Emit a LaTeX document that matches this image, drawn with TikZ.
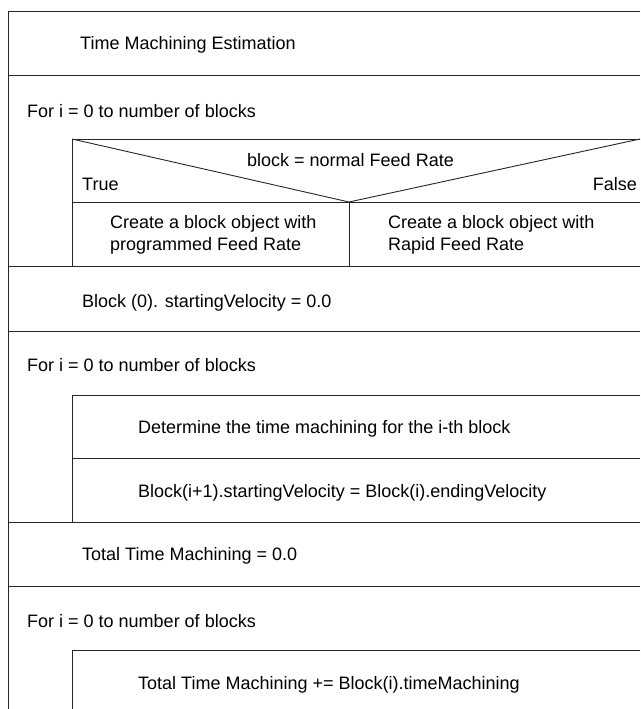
\documentclass[tikz,border=0pt]{standalone}
\usepackage{fontspec}
\setmainfont{Liberation Sans}
\begin{document}
\begin{tikzpicture}[x=1pt,y=-1pt,
  rule/.style={line width=0.9pt,draw=black!85},
  txt/.style={font=\fontsize{18}{22}\selectfont,inner sep=0pt,anchor=base west,text=black},
  txtr/.style={txt,anchor=base east},
  twoline/.style={font=\fontsize{18}{22}\selectfont,inner sep=0pt,anchor=west,align=left,text=black}]
\useasboundingbox[fill=white] (0,0) rectangle (640,709);

% outer frame: left edge and full-width rules
\draw[rule] (640,11) -- (8,11) -- (8,709);
\foreach \yy in {75,266,331,522,586}
  \draw[rule] (8,\yy) -- (640,\yy);

% decision block
\coordinate (dtl) at (72,139);
\coordinate (dtr) at (640,139);
\coordinate (dv) at (349,202);
\coordinate (dbl) at (72,202);
\coordinate (dbr) at (640,202);
\coordinate (dbot) at (349,266);
\draw[rule] (dtr) -- (dtl) -- (72,266);
\draw[rule] (dtl) -- (dv) -- (dtr);
\draw[rule] (dbl) -- (dbr);
\draw[rule] (dv) -- (dbot);

% second loop body
\draw[rule] (640,395) -- (72,395) -- (72,522);
\draw[rule] (72,458) -- (640,458);

% third loop body
\draw[rule] (640,650) -- (72,650) -- (72,709);

% texts
\node[txt] (title) at (80,50) {Time Machining Estimation};
\node[txt] (loop1) at (27,117) {For i = 0 to number of blocks};
\node[txt] (cond) at (247,166) {block = normal Feed Rate};
\node[txt] (yes) at (82,190) {True};
\node[txtr] (no) at (637,190) {False};
\node[twoline] (tbranch) at (110,234.4) {Create a block object with\\programmed Feed Rate};
\node[twoline] (fbranch) at (388,234.4) {Create a block object with\\Rapid Feed Rate};
\node[txt] (init) at (82,307) {Block (0). startingVelocity = 0.0};
\node[txt] (loop2) at (27,371) {For i = 0 to number of blocks};
\node[txt] (det) at (138,433) {Determine the time machining for the i-th block};
\node[txt] (pass) at (138,497) {Block(i+1).startingVelocity = Block(i).endingVelocity};
\node[txt] (tinit) at (82,560) {Total Time Machining = 0.0};
\node[txt] (loop3) at (27,627) {For i = 0 to number of blocks};
\node[txt] (acc) at (138,689) {Total Time Machining += Block(i).timeMachining};
\end{tikzpicture}
\end{document}
